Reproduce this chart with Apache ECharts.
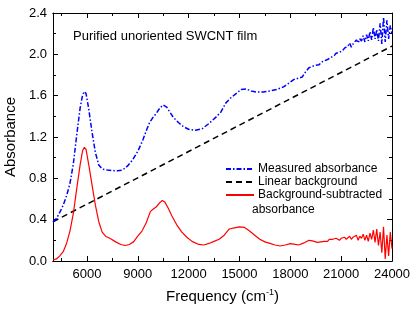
<!DOCTYPE html>
<html><head><meta charset="utf-8">
<script src="https://cdn.jsdelivr.net/npm/echarts@6/dist/echarts.min.js"></script>
<style>html,body{margin:0;padding:0;background:#fff}#c{width:415px;height:310px}</style>
</head><body><div id="c"></div>
<script>
// Measured absorbance (blue dash-dot)
var measFreq = [4000,4200,4400,4600,4800,5000,5200,5400,5600,5750,5850,5950,6100,6300,6500,6700,6900,7200,7500,7800,8100,8400,8700,9000,9300,9500,9700,9900,10100,10300,10500,10700,10900,11100,11400,11700,12000,12400,12800,13200,13600,13900,14200,14500,14800,15100,15400,15700,16000,16400,16800,17200,17600,17900,18200,18500,18700,18900,19100,19400,19700,19900,
  20000,20200,20400,20500,20600,20700,20800,20900,21000,21100,21200,21300,21400,21500,21600,21700,21800,21900,22000,22100,22200,22300,22400,22500,22600,22700,22800,22900,23000,23100,23200,23300,23400,23500,23600,23700,23800,23900,24000];
var measAbs = [0.38,0.41,0.47,0.54,0.63,0.75,0.94,1.22,1.48,1.61,1.64,1.62,1.48,1.25,1.05,0.93,0.89,0.88,0.875,0.874,0.88,0.92,0.98,1.06,1.17,1.26,1.34,1.39,1.43,1.48,1.51,1.49,1.44,1.39,1.34,1.30,1.275,1.265,1.28,1.33,1.39,1.44,1.53,1.58,1.62,1.66,1.665,1.645,1.635,1.635,1.645,1.66,1.685,1.72,1.755,1.77,1.78,1.83,1.87,1.89,1.90,1.93,
  1.93,1.95,1.97,1.98,1.99,2.01,2.0,2.02,2.03,2.04,2.06,2.05,2.08,2.11,2.07,2.1,2.12,2.14,2.11,2.15,2.13,2.18,2.12,2.19,2.13,2.22,2.14,2.26,2.15,2.24,2.13,2.3,2.1,2.36,2.12,2.33,2.15,2.28,2.2];
// Linear background (black dashed)
var bgFreq = [4000,24000];
var bgAbs = [0.38,2.08];
// Background-subtracted absorbance (red)
var subFreq = [4000,4200,4400,4600,4800,5000,5200,5400,5600,5750,5850,5950,6100,6300,6500,6700,6900,7100,7400,7700,8000,8250,8500,8750,9000,9250,9500,9750,9900,10100,10300,10450,10600,10800,11000,11300,11600,11900,12200,12600,12900,13200,13500,13800,14100,14400,14700,15000,15300,15600,15900,16200,16500,16800,17100,17400,17700,18000,18300,18500,18800,19100,19300,19600,19800,
  20000,20100,20200,20300,20400,20500,20600,20700,20800,20900,21000,21100,21200,21300,21400,21500,21600,21700,21800,21900,22000,22100,22200,22300,22400,22500,22600,22700,22800,22900,23000,23100,23200,23300,23400,23500,23600,23700,23800,23900,24000];
var subAbs = [0.01,0.02,0.05,0.09,0.17,0.29,0.46,0.7,0.93,1.07,1.1,1.08,0.94,0.74,0.54,0.38,0.28,0.24,0.215,0.185,0.16,0.15,0.16,0.185,0.24,0.29,0.37,0.48,0.5,0.525,0.565,0.585,0.57,0.51,0.44,0.35,0.28,0.23,0.19,0.16,0.155,0.17,0.19,0.21,0.25,0.31,0.32,0.33,0.325,0.29,0.25,0.21,0.185,0.17,0.155,0.145,0.155,0.168,0.16,0.155,0.175,0.2,0.195,0.18,0.185,
  0.19,0.2,0.19,0.21,0.2,0.21,0.2,0.22,0.21,0.2,0.22,0.21,0.23,0.21,0.22,0.24,0.21,0.23,0.22,0.25,0.2,0.24,0.22,0.26,0.2,0.25,0.19,0.27,0.21,0.3,0.18,0.31,0.15,0.28,0.08,0.33,0.02,0.25,0.05,0.28,0.12];
// Axis ticks
var xLabelTicks = [6000,9000,12000,15000,18000,21000,24000];
var xMinorTicks = [4500,7500,10500,13500,16500,19500,22500];

function pairs(xs, ys){ return xs.map(function(x,i){ return [x, ys[i]]; }); }

var FONT = 'Liberation Sans, Arial, Helvetica, sans-serif';
var chart = echarts.init(document.getElementById('c'), null, {renderer:'canvas'});
var axisLine = {show:true, onZero:false, lineStyle:{color:'#000', width:1}};
function xAx(pos, ticks, len, label, name){
  var a = {type:'value', position:pos, min:4000, max:24000,
    axisLine: axisLine, splitLine:{show:false},
    axisTick:{show:true, inside:true, length:len, customValues:ticks, lineStyle:{color:'#000'}},
    axisLabel: label ? {show:true, customValues:ticks, color:'#000', fontSize:13, fontFamily:FONT, margin:7,
      formatter:function(v){ return String(v); }} : {show:false}
  };
  if (name) {
    a.name = name; a.nameLocation = 'middle'; a.nameGap = 27;
    a.nameTextStyle = {color:'#000', fontSize:15, fontFamily:FONT,
      rich:{sup:{fontSize:9, verticalAlign:'top', color:'#000', fontFamily:FONT, padding:[0,0,8,0]}, n:{fontSize:15,color:'#000',fontFamily:FONT}}};
  }
  return a;
}
function yAx(pos, label, name){
  var a = {type:'value', position:pos, min:0, max:2.4, interval:0.4,
    axisLine: axisLine, splitLine:{show:false},
    axisTick:{show:true, inside:true, length:5, lineStyle:{color:'#000'}},
    minorTick:{show:true, splitNumber:2, length:3, lineStyle:{color:'#000'}},
    minorSplitLine:{show:false},
    axisLabel: label ? {show:true, color:'#000', fontSize:13, fontFamily:FONT, margin:6, formatter:function(v){return v.toFixed(1);}} : {show:false}
  };
  if (name) {
    a.name = name; a.nameLocation = 'middle'; a.nameGap = 32;
    a.nameTextStyle = {color:'#000', fontSize:15, fontFamily:FONT};
  }
  return a;
}

chart.setOption({
  animation:false,
  backgroundColor:'#fff',
  grid:{left:53, right:23, top:13, bottom:49, containLabel:false, outerBoundsMode:'none'},
  title:{text:'Purified unoriented SWCNT film', left:68, top:25,
    textStyle:{fontSize:13, fontWeight:'normal', color:'#000', fontFamily:FONT}},
  legend:{orient:'vertical', left:220, top:158, itemWidth:28, itemHeight:12, itemGap:1,
    itemStyle:{opacity:0},
    textStyle:{fontSize:12, color:'#000', fontFamily:FONT, padding:[0,0,0,-1]},
    data:['Measured absorbance','Linear background','Background-subtracted absorbance'],
    formatter:function(n){ return n==='Background-subtracted absorbance' ? 'Background-subtracted' : n; }},
  graphic:[{type:'text', left:252, top:204, style:{text:'absorbance', fontSize:12, fill:'#000', fontFamily:FONT}}],
  xAxis:[
    xAx('bottom', xLabelTicks, 5, true, '{n|Frequency (cm}{sup|-1}{n|)}'),
    xAx('bottom', xMinorTicks, 3, false),
    xAx('top', xLabelTicks, 5, false),
    xAx('top', xMinorTicks, 3, false)
  ],
  yAxis:[ yAx('left', true, 'Absorbance'), yAx('right', false) ],
  series:[
    {name:'Measured absorbance', type:'line', data:pairs(measFreq, measAbs), symbol:'none', showSymbol:false,
      lineStyle:{color:'#0000ff', width:1.5, type:[5,2,1.5,2]}, itemStyle:{color:'#0000ff'}, z:3},
    {name:'Linear background', type:'line', data:pairs(bgFreq, bgAbs), symbol:'none', showSymbol:false,
      lineStyle:{color:'#000', width:1.5, type:[6,4]}, itemStyle:{color:'#000'}, z:2},
    {name:'Background-subtracted absorbance', type:'line', data:pairs(subFreq, subAbs), symbol:'none', showSymbol:false,
      lineStyle:{color:'#ff0000', width:1.2}, itemStyle:{color:'#ff0000'}, z:4}
  ]
});
</script></body></html>
